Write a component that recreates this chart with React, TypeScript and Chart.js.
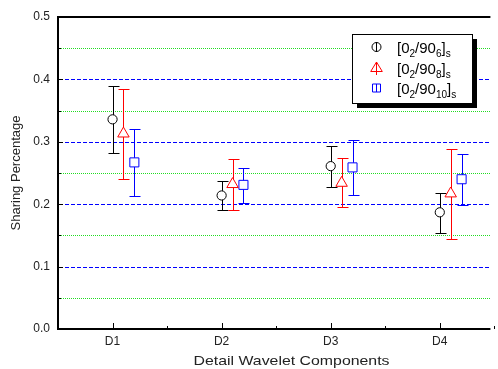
import React, { useEffect, useRef } from 'react';
import { Chart, registerables } from 'chart.js';

Chart.register(...registerables);

// ---- data ----
const categories = ['D1', 'D2', 'D3', 'D4'];
const seriesLabels = ['[0{2}/90{6}]{s}', '[0{2}/90{8}]{s}', '[0{2}/90{10}]{s}'];
const xTitle = 'Detail Wavelet Components';
const yTitle = 'Sharing Percentage';

const mean6 = [0.336, 0.214, 0.261, 0.187];
const hi6 = [0.389, 0.237, 0.293, 0.218];
const lo6 = [0.282, 0.19, 0.227, 0.154];

const mean8 = [0.313, 0.232, 0.234, 0.217];
const hi8 = [0.385, 0.272, 0.274, 0.288];
const lo8 = [0.24, 0.19, 0.195, 0.145];

const mean10 = [0.267, 0.231, 0.259, 0.24];
const hi10 = [0.32, 0.258, 0.303, 0.28];
const lo10 = [0.213, 0.202, 0.214, 0.198];

const yMajorTicks = [0, 0.1, 0.2, 0.3, 0.4, 0.5];
const yMinorTicks = [0.05, 0.15, 0.25, 0.35, 0.45];
const seriesOffsets = [0, 0.1, 0.2];

// ---- styles ----
const FONT = '"Liberation Sans", Arial, sans-serif';
const TEXT = '#222';
const colors = ['#000000', '#ff0000', '#0000ff'];
const pointStyles = ['circle', 'triangle', 'rect'];
const pointRadii = [4.6, 6.6, 6.4];

const series = [
  { mean: mean6, hi: hi6, lo: lo6 },
  { mean: mean8, hi: hi8, lo: lo8 },
  { mean: mean10, hi: hi10, lo: lo10 },
];

function parseLabel(s: string) {
  const out: { t: string; sub: boolean }[] = [];
  const re = /\{([^}]*)\}|([^{]+)/g;
  let m;
  while ((m = re.exec(s))) {
    if (m[1] !== undefined) out.push({ t: m[1], sub: true });
    else out.push({ t: m[2], sub: false });
  }
  return out;
}

const drawPlugin = {
  id: 'originStyle',
  beforeDatasetsDraw(chart: any) {
    const { ctx, chartArea, scales } = chart;
    const { left, right } = chartArea;
    const y = scales.y;
    ctx.save();
    // minor grid (green dotted)
    ctx.lineWidth = 1;
    ctx.strokeStyle = '#22dd22';
    ctx.setLineDash([1, 1]);
    yMinorTicks.forEach((v) => {
      const py = Math.round(y.getPixelForValue(v)) + 0.5;
      ctx.beginPath();
      ctx.moveTo(left + 1, py);
      ctx.lineTo(right, py);
      ctx.stroke();
    });
    // major grid (blue dashed)
    ctx.strokeStyle = '#0000ff';
    ctx.setLineDash([4, 2]);
    yMajorTicks.forEach((v) => {
      if (v <= 0 || v >= 0.5) return;
      const py = Math.round(y.getPixelForValue(v)) + 0.5;
      ctx.beginPath();
      ctx.moveTo(left + 1, py);
      ctx.lineTo(right, py);
      ctx.stroke();
    });
    ctx.setLineDash([]);
    // error bars
    series.forEach((s, di) => {
      const meta = chart.getDatasetMeta(di);
      ctx.strokeStyle = colors[di];
      ctx.lineWidth = 1;
      s.mean.forEach((_, i) => {
        const el = meta.data[i];
        const px = Math.round(el.x) + 0.5;
        const yh = Math.round(y.getPixelForValue(s.hi[i])) + 0.5;
        const yl = Math.round(y.getPixelForValue(s.lo[i])) + 0.5;
        ctx.beginPath();
        ctx.moveTo(px, yh);
        ctx.lineTo(px, yl);
        ctx.moveTo(px - 5, yh);
        ctx.lineTo(px + 6, yh);
        ctx.moveTo(px - 5, yl);
        ctx.lineTo(px + 6, yl);
        ctx.stroke();
      });
    });
    ctx.restore();
  },
  afterDraw(chart: any) {
    const { ctx, chartArea, scales } = chart;
    const { left, right, top, bottom } = chartArea;
    const x = scales.x;
    const y = scales.y;
    ctx.save();
    ctx.strokeStyle = '#000';
    ctx.lineWidth = 2;
    ctx.beginPath();
    ctx.moveTo(left, top);
    ctx.lineTo(right, top);
    ctx.moveTo(left, top - 1);
    ctx.lineTo(left, bottom + 1);
    ctx.moveTo(left - 1, bottom);
    ctx.lineTo(right, bottom);
    ctx.stroke();
    // tick marks (inward)
    ctx.lineWidth = 1;
    ctx.beginPath();
    yMajorTicks.forEach((v) => {
      const py = Math.round(y.getPixelForValue(v)) + 0.5;
      ctx.moveTo(left, py);
      ctx.lineTo(left + 5, py);
    });
    yMinorTicks.forEach((v) => {
      const py = Math.round(y.getPixelForValue(v)) + 0.5;
      ctx.moveTo(left, py);
      ctx.lineTo(left + 3, py);
    });
    categories.forEach((_, i) => {
      const px = Math.round(x.getPixelForValue(i + 1)) + 0.5;
      ctx.moveTo(px, bottom);
      ctx.lineTo(px, bottom - 6);
      const pm = Math.round(x.getPixelForValue(i + 1.5)) + 0.5;
      ctx.moveTo(pm, bottom);
      ctx.lineTo(pm, bottom - 3);
    });
    ctx.stroke();

    // x axis title (horizontally stretched like the original)
    ctx.save();
    ctx.translate(291.5, 361);
    ctx.scale(1.22, 1);
    ctx.fillStyle = TEXT;
    ctx.font = '13px ' + FONT;
    ctx.textAlign = 'center';
    ctx.textBaseline = 'middle';
    ctx.fillText(xTitle, 0, 0);
    ctx.restore();

    // legend
    const bx = 352, by = 34, bw = 120, bh = 69;
    ctx.fillStyle = '#000';
    ctx.fillRect(bx + 5, by + 5, bw, bh);
    ctx.fillStyle = '#fff';
    ctx.fillRect(bx, by, bw, bh);
    ctx.strokeStyle = '#000';
    ctx.lineWidth = 1;
    ctx.strokeRect(bx + 0.5, by + 0.5, bw, bh);

    const rows = [47, 68, 88];
    seriesLabels.forEach((lab, i) => {
      const cy = rows[i];
      const cx = 376.5;
      ctx.strokeStyle = colors[i];
      ctx.lineWidth = 1;
      ctx.beginPath();
      if (i === 0) {
        ctx.arc(cx, cy, 4.5, 0, Math.PI * 2);
        ctx.moveTo(cx, cy - 5);
        ctx.lineTo(cx, cy + 5);
      } else if (i === 1) {
        ctx.moveTo(cx, cy - 6);
        ctx.lineTo(cx + 5.8, cy + 3.5);
        ctx.lineTo(cx - 5.8, cy + 3.5);
        ctx.closePath();
        ctx.moveTo(cx, cy - 6);
        ctx.lineTo(cx, cy + 7);
      } else {
        ctx.rect(cx - 4, cy - 4, 8, 8);
        ctx.moveTo(cx, cy - 4);
        ctx.lineTo(cx, cy + 4);
      }
      ctx.stroke();

      let tx = 397;
      const base = cy + 6;
      ctx.fillStyle = '#000';
      ctx.textBaseline = 'alphabetic';
      ctx.textAlign = 'left';
      parseLabel(lab).forEach((seg) => {
        ctx.font = (seg.sub ? '10px ' : '15px ') + FONT;
        ctx.fillText(seg.t, tx, seg.sub ? base + 4 : base);
        tx += ctx.measureText(seg.t).width;
      });
    });
    ctx.restore();
  },
};

export default function App() {
  const ref = useRef<HTMLCanvasElement | null>(null);
  useEffect(() => {
    if (!ref.current) return;
    const chart = new Chart(ref.current, {
      type: 'scatter',
      data: {
        datasets: series.map((s, di) => ({
          label: seriesLabels[di],
          data: s.mean.map((v, i) => ({ x: i + 1 + seriesOffsets[di], y: v })),
          pointStyle: pointStyles[di] as any,
          pointRadius: pointRadii[di],
          pointHoverRadius: pointRadii[di],
          borderColor: colors[di],
          backgroundColor: '#ffffff',
          pointBorderWidth: 1,
          showLine: false,
        })),
      },
      options: {
        responsive: false,
        animation: false,
        events: [],
        layout: { padding: { top: 17, right: 0, left: 0, bottom: 0 } },
        plugins: { legend: { display: false }, tooltip: { enabled: false } },
        scales: {
          x: {
            type: 'linear',
            min: 0.5,
            max: 4.464,
            grid: { display: false, drawTicks: false },
            border: { display: false },
            afterFit: (s: any) => { s.height = 40; },
            afterBuildTicks: (s: any) => { s.ticks = categories.map((_, i) => ({ value: i + 1 })); },
            ticks: {
              padding: 5,
              color: TEXT,
              font: { family: FONT, size: 12 },
              callback: (v: any) => categories[Math.round(v) - 1] ?? '',
              maxRotation: 0,
              autoSkip: false,
            },
            title: { display: false, text: xTitle },
          },
          y: {
            type: 'linear',
            min: 0,
            max: 0.5,
            grid: { display: false, drawTicks: false },
            border: { display: false },
            afterFit: (s: any) => { s.width = 58; },
            afterBuildTicks: (s: any) => { s.ticks = yMajorTicks.map((v) => ({ value: v })); },
            ticks: {
              padding: 8,
              color: TEXT,
              font: { family: FONT, size: 12 },
              callback: (v: any) => Number(v).toFixed(1),
            },
            title: {
              display: true,
              text: yTitle,
              color: TEXT,
              font: { family: FONT, size: 13 },
              padding: { top: 9, bottom: 0 },
            },
          },
        },
      },
      plugins: [drawPlugin],
    });
    return () => chart.destroy();
  }, []);
  return (
    <div style={{ position: 'absolute', left: 0, top: 0, width: 498, height: 369, background: '#fff' }}>
      <canvas ref={ref} width={498} height={369} />
    </div>
  );
}
